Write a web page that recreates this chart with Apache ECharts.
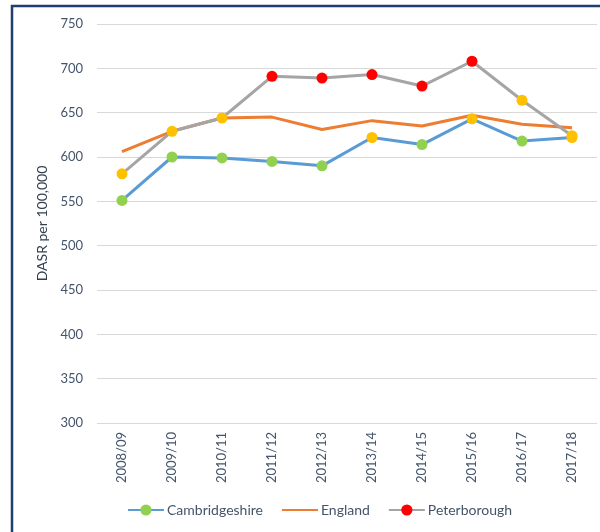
<!DOCTYPE html>
<html lang="en">
<head>
    <meta charset="UTF-8">
    <title>DASR per 100,000</title>
    <script src="https://cdn.jsdelivr.net/npm/echarts@6/dist/echarts.min.js"></script>
    <style>
        html, body { margin: 0; padding: 0; background: #fff; }
        #main { width: 600px; height: 532px; }
    </style>
</head>
<body>
<div id="main"></div>
<script>
    var years = ['2008/09', '2009/10', '2010/11', '2011/12', '2012/13', '2013/14', '2014/15', '2015/16', '2016/17', '2017/18']
    var cambridgeshire = [551, 600, 599, 595, 590, 622, 614, 643, 618, 622]
    var england = [606, 629, 644, 645, 631, 641, 635, 647, 637, 633]
    var peterborough = [581, 629, 644, 691, 689, 693, 680, 708, 664, 624]
    // comparison with England for each point
    var cambsVsEngland = ['lower', 'lower', 'lower', 'lower', 'lower', 'similar', 'lower', 'similar', 'lower', 'similar']
    var peterboroughVsEngland = ['similar', 'similar', 'similar', 'higher', 'higher', 'higher', 'higher', 'higher', 'similar', 'similar']

    var markColor = { lower: '#92D050', similar: '#FFC000', higher: '#FF0000' }
    var font = 'Lato, "Noto Sans", sans-serif'

    function pts(vals, cmp) {
        return vals.map((v, i) => ({ value: v, itemStyle: { color: markColor[cmp[i]] } }))
    }

    var chart = echarts.init(document.getElementById('main'))
    chart.setOption({
        animation: false,
        graphic: [{
            type: 'rect',
            shape: { x: 12, y: 6, width: 800, height: 800 },
            style: { fill: 'none', stroke: '#1F3F6E', lineWidth: 2.5 },
            silent: true
        }],
        grid: { left: 97, right: 3, top: 24, bottom: 109 },
        legend: {
            bottom: 10,
            left: 122,
            itemWidth: 36,
            itemHeight: 14,
            itemGap: 18,
            textStyle: { fontFamily: font, fontSize: 14, color: '#44546A', padding: [0, 0, 0, -2] },
            data: ['Cambridgeshire', { name: 'England', itemStyle: { opacity: 0 } }, 'Peterborough']
        },
        xAxis: {
            type: 'category',
            data: years,
            boundaryGap: true,
            axisLine: { show: false },
            axisTick: { show: false },
            axisLabel: { rotate: 90, margin: 9, fontFamily: font, fontSize: 13, color: '#44546A' }
        },
        yAxis: {
            type: 'value',
            min: 300,
            max: 750,
            interval: 50,
            name: 'DASR per 100,000',
            nameLocation: 'middle',
            nameGap: 46,
            nameTextStyle: { fontFamily: font, fontSize: 14, color: '#333F50' },
            axisLine: { show: false },
            axisTick: { show: false },
            axisLabel: { margin: 14, fontFamily: font, fontSize: 13, color: '#44546A' },
            splitLine: { lineStyle: { color: '#D9D9D9', width: 1 } }
        },
        series: [{
            name: 'Cambridgeshire',
            type: 'line',
            symbol: 'circle',
            symbolSize: 11,
            lineStyle: { color: '#5B9BD5', width: 3 },
            itemStyle: { color: '#92D050' },
            data: pts(cambridgeshire, cambsVsEngland)
        }, {
            name: 'England',
            type: 'line',
            symbol: 'none',
            lineStyle: { color: '#ED7D31', width: 3 },
            itemStyle: { color: '#ED7D31' },
            data: england
        }, {
            name: 'Peterborough',
            type: 'line',
            symbol: 'circle',
            symbolSize: 11,
            lineStyle: { color: '#A5A5A5', width: 3 },
            itemStyle: { color: '#FF0000' },
            data: pts(peterborough, peterboroughVsEngland)
        }]
    })
</script>
</body>
</html>
